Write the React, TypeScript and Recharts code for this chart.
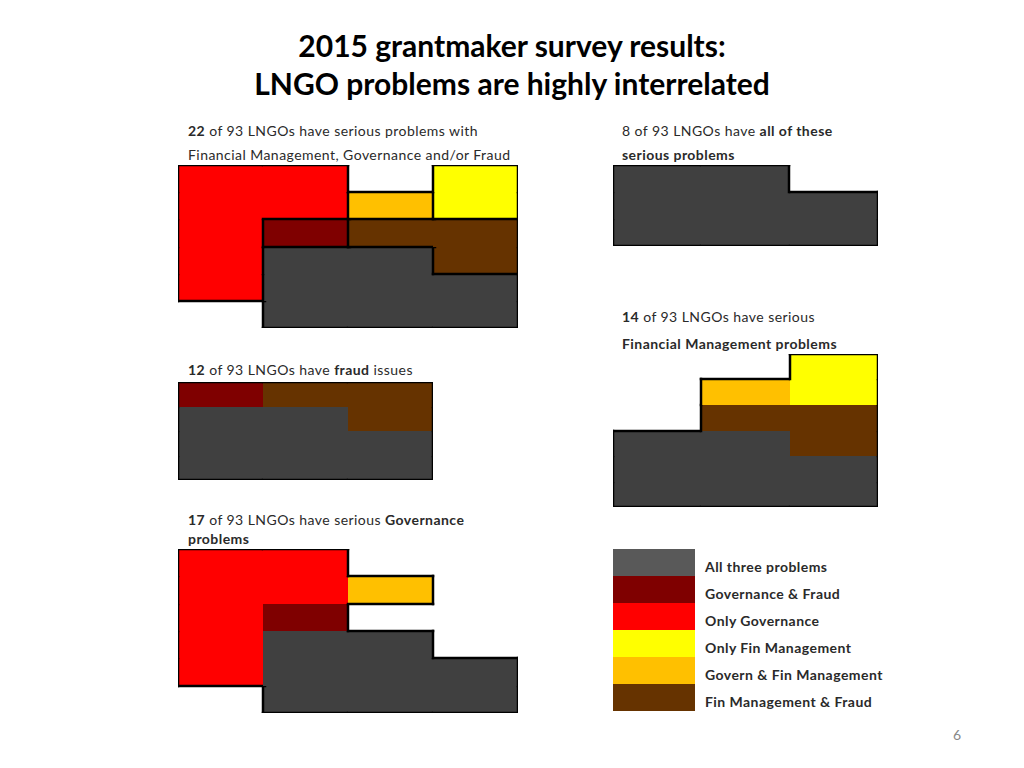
import { BarChart, Bar, XAxis, YAxis } from "recharts";

// cell letters per panel, top row first; "." = no LNGO in that spot
const COLORS: Record<string, string> = {
  G: "#404040", // all three problems
  D: "#7f0000", // governance & fraud
  R: "#ff0000", // only governance
  Y: "#ffff00", // only fin management
  O: "#ffc000", // govern & fin management
  B: "#663300", // fin management & fraud
};

const mainGrid = ["RR.Y", "RROY", "RDBB", "RGGB", "RGGG", ".GGG"];
const allGrid = ["GG.", "GGG", "GGG"];
const fraudGrid = ["DBB", "GGB", "GGG", "GGG"];
const finGrid = ["..Y", ".OY", ".BB", "GGB", "GGG", "GGG"];
const govGrid = ["RR..", "RRO.", "RD..", "RGG.", "RGGG", ".GGG"];

const legendLabels = [
  "All three problems",
  "Governance & Fraud",
  "Only Governance",
  "Only Fin Management",
  "Govern & Fin Management",
  "Fin Management & Fraud",
];
const legendColors = ["#595959", "#7f0000", "#ff0000", "#ffff00", "#ffc000", "#663300"];

const FONT = "Lato, 'Open Sans', sans-serif";

interface PanelProps {
  grid: string[];
  left: number;
  top: number;
  width: number;
  height: number;
  inner?: boolean;
}

function Panel({ grid, left, top, width, height, inner }: PanelProps) {
  const rows = grid.length;
  const cols = grid[0].length;
  const at = (r: number, c: number) =>
    r < 0 || r >= rows || c < 0 || c >= cols ? "." : grid[r][c];

  const data = Array.from({ length: cols }, (_, c) => {
    const d: Record<string, number> = { col: c };
    for (let r = 0; r < rows; r++) d["r" + r] = 1;
    return d;
  });

  // stack index 0 is the bottom row
  const makeShape = (s: number) => (props: any) => {
    const { payload } = props;
    const x = Math.round(props.x);
    const y = Math.round(props.y);
    const w = Math.round(props.x + props.width) - x;
    const h = Math.round(props.y + props.height) - y;
    const gr = rows - 1 - s;
    const c = payload.col;
    const k = at(gr, c);
    if (k === ".") return <g />;
    const up = at(gr - 1, c);
    const down = at(gr + 1, c);
    const lf = at(gr, c - 1);
    const rt = at(gr, c + 1);
    // bars are a touch narrower than the band; let a filled neighbour cover the overlap
    const fillW = rt === "." ? w : w + 2;
    const ln = { stroke: "#000", strokeWidth: 2.5, strokeLinecap: "square" as const };
    return (
      <g>
        <rect x={x} y={y} width={fillW} height={h} fill={COLORS[k]} shapeRendering="crispEdges" />
        {up === "." && <line x1={x} y1={y} x2={x + w} y2={y} {...ln} />}
        {rt === "." && <line x1={x + w} y1={y} x2={x + w} y2={y + h} {...ln} />}
        {(down === "." || (inner && down !== k)) && (
          <line x1={x} y1={y + h} x2={x + fillW} y2={y + h} {...ln} />
        )}
        {(lf === "." || (inner && lf !== k)) && (
          <line x1={x} y1={y} x2={x} y2={y + h} {...ln} />
        )}
      </g>
    );
  };

  return (
    <div style={{ position: "absolute", left, top }}>
      <BarChart
        width={width}
        height={height}
        data={data}
        margin={{ top: 0, right: 0, bottom: 0, left: 0 }}
        barCategoryGap={0}
        barGap={0}
        style={{ overflow: "visible" }}
      >
        <XAxis dataKey="col" hide />
        <YAxis hide domain={[0, rows]} />
        {Array.from({ length: rows }, (_, s) => (
          <Bar
            key={s}
            dataKey={"r" + s}
            stackId="a"
            isAnimationActive={false}
            shape={makeShape(s)}
          />
        ))}
      </BarChart>
    </div>
  );
}

function Caption({ left, top, children }: { left: number; top: number; children: any }) {
  return (
    <div
      style={{
        position: "absolute",
        left,
        top,
        fontFamily: FONT,
        fontSize: 14,
        lineHeight: "16px",
        letterSpacing: 0.45,
        color: "#2a2a2a",
        whiteSpace: "nowrap",
      }}
    >
      {children}
    </div>
  );
}

export default function App() {
  return (
    <div
      style={{
        position: "absolute",
        left: 0,
        top: 0,
        width: 1024,
        height: 768,
        background: "#fff",
        overflow: "hidden",
      }}
    >
      <div
        style={{
          position: "absolute",
          left: 0,
          top: 26,
          width: 1024,
          textAlign: "center",
          fontFamily: FONT,
          fontWeight: 700,
          fontSize: 30,
          lineHeight: "38px",
          color: "#000",
        }}
      >
        2015 grantmaker survey results:
        <br />
        LNGO problems are highly interrelated
      </div>

      <Caption left={188} top={123}>
        <b>22</b> of 93 LNGOs have serious problems with
      </Caption>
      <Caption left={188} top={147}>
        Financial Management, Governance and/or Fraud
      </Caption>
      <Panel grid={mainGrid} left={178} top={165} width={340} height={163} inner />

      <Caption left={622} top={123}>
        8 of 93 LNGOs have <b>all of these</b>
      </Caption>
      <Caption left={622} top={147}>
        <b>serious problems</b>
      </Caption>
      <Panel grid={allGrid} left={613} top={165} width={265} height={81} />

      <Caption left={188} top={362}>
        <b>12</b> of 93 LNGOs have <b>fraud</b> issues
      </Caption>
      <Panel grid={fraudGrid} left={178} top={382} width={255} height={98} />

      <Caption left={622} top={309}>
        <b>14</b> of 93 LNGOs have serious
      </Caption>
      <Caption left={622} top={336}>
        <b>Financial Management problems</b>
      </Caption>
      <Panel grid={finGrid} left={613} top={354} width={265} height={153} />

      <Caption left={188} top={512}>
        <b>17</b> of 93 LNGOs have serious <b>Governance</b>
      </Caption>
      <Caption left={188} top={531}>
        <b>problems</b>
      </Caption>
      <Panel grid={govGrid} left={178} top={549} width={340} height={164} />

      {legendLabels.map((label, i) => (
        <div key={label}>
          <div
            style={{
              position: "absolute",
              left: 613,
              top: 549 + i * 27,
              width: 82,
              height: 27,
              background: legendColors[i],
            }}
          />
          <Caption left={705} top={559 + i * 27}>
            <b>{label}</b>
          </Caption>
        </div>
      ))}

      <div
        style={{
          position: "absolute",
          left: 953,
          top: 726,
          fontFamily: FONT,
          fontSize: 14,
          color: "#888",
        }}
      >
        6
      </div>
    </div>
  );
}
